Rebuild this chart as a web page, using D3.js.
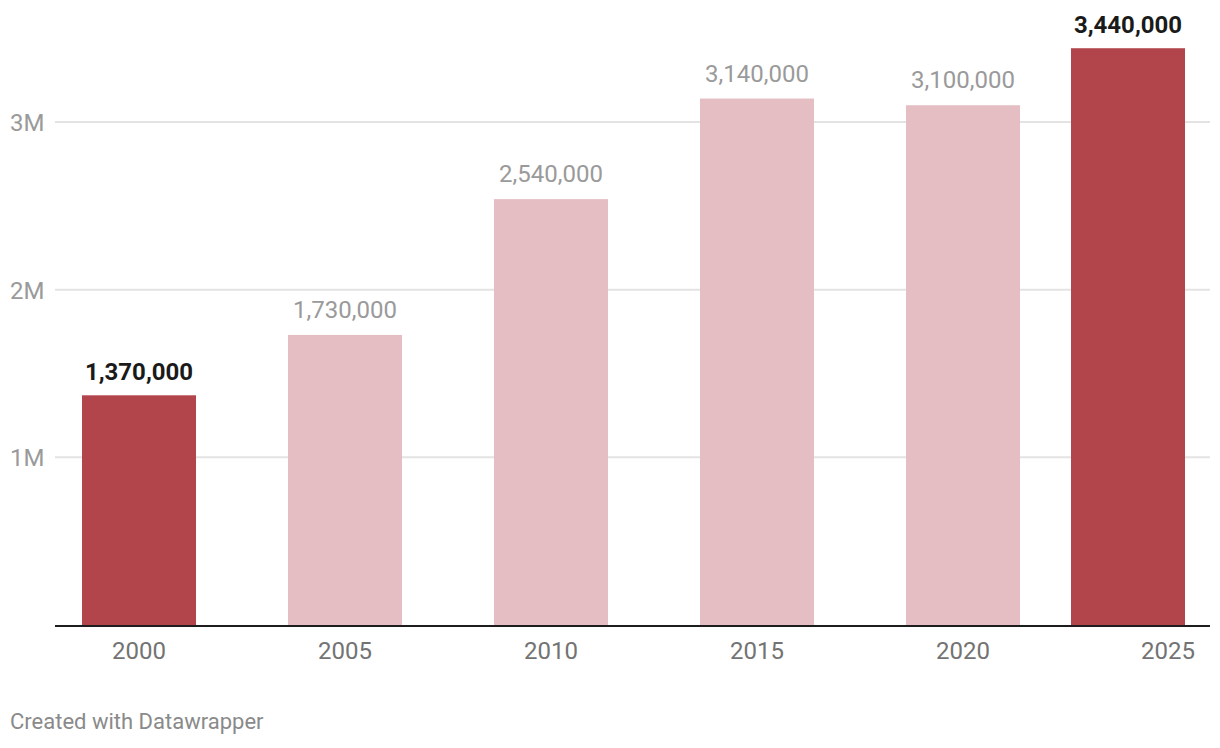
<!DOCTYPE html>
<html lang="en">
<head>
	<meta charset="utf-8">
	<title>Bar chart</title>
	<style type="text/css">
		body { margin: 0; background: #fff; font-family: Roboto, sans-serif; }
		.grid line { stroke: #e3e3e3; stroke-width: 2px; }
		.ylab { fill: #9a9a9a; font-size: 24px; }
		.xlab { fill: #737373; font-size: 24px; }
		.val { font-size: 24px; fill: #9a9a9a; }
		.val.hi { font-weight: bold; fill: #1a1a1a; }
		.footer { fill: #8a8a8a; font-size: 22px; }
	</style>
	<script src="https://cdn.jsdelivr.net/npm/d3@7"></script>
</head>
<body>
<script>
	// data
	var years = ["2000", "2005", "2010", "2015", "2020", "2025"];
	var values = [1370000, 1730000, 2540000, 3140000, 3100000, 3440000];
	var highlight = [true, false, false, false, false, true];
	var yTicks = [1000000, 2000000, 3000000];

	var width = 1220, height = 748;
	var left = 55, right = 1210, bottom = 625;

	var svg = d3.select("body").append("svg")
		.attr("width", width)
		.attr("height", height);

	var y = d3.scaleLinear()
		.domain([0, 3000000])
		.range([bottom, 122]);

	var x = d3.scaleBand()
		.domain(years)
		.range([82, 1226])
		.paddingInner(92 / 206)
		.paddingOuter(0);

	// last bar gets pushed back inside the plot area
	function barX(d) {
		return Math.min(x(d), right - 25 - x.bandwidth());
	}

	var grid = svg.append("g").attr("class", "grid");
	grid.selectAll("line")
		.data(yTicks)
		.enter().append("line")
		.attr("x1", left)
		.attr("x2", right)
		.attr("y1", function(d){ return y(d); })
		.attr("y2", function(d){ return y(d); });

	svg.append("g").selectAll("text")
		.data(yTicks)
		.enter().append("text")
		.attr("class", "ylab")
		.attr("x", 10)
		.attr("y", function(d){ return y(d) + 9; })
		.text(function(d){ return d3.format("~s")(d); });

	var rows = years.map(function(yr, i){
		return { year: yr, value: values[i], hi: highlight[i] };
	});

	svg.append("g").selectAll("rect")
		.data(rows)
		.enter().append("rect")
		.attr("x", function(d){ return barX(d.year); })
		.attr("y", function(d){ return y(d.value); })
		.attr("width", x.bandwidth())
		.attr("height", function(d){ return bottom - y(d.value); })
		.attr("fill", function(d){ return d.hi ? "#b1454b" : "#e4bec2"; });

	svg.append("g").selectAll("text")
		.data(rows)
		.enter().append("text")
		.attr("class", function(d){ return d.hi ? "val hi" : "val"; })
		.attr("text-anchor", "middle")
		.attr("x", function(d){ return barX(d.year) + x.bandwidth() / 2; })
		.attr("y", function(d){ return y(d.value) - (d.hi ? 15 : 17); })
		.text(function(d){ return d3.format(",")(d.value); });

	svg.append("line")
		.attr("x1", left)
		.attr("x2", right)
		.attr("y1", bottom + 1)
		.attr("y2", bottom + 1)
		.attr("stroke", "#1d1d1d")
		.attr("stroke-width", 2);

	svg.append("g").selectAll("text")
		.data(years)
		.enter().append("text")
		.attr("class", "xlab")
		.attr("text-anchor", function(d, i){ return i == years.length - 1 ? "end" : "middle"; })
		.attr("x", function(d, i){
			return i == years.length - 1 ? right - 15 : x(d) + x.bandwidth() / 2;
		})
		.attr("y", 659)
		.text(function(d){ return d; });

	svg.append("text")
		.attr("class", "footer")
		.attr("x", 10)
		.attr("y", 729)
		.text("Created with Datawrapper");
</script>
</body>
</html>
